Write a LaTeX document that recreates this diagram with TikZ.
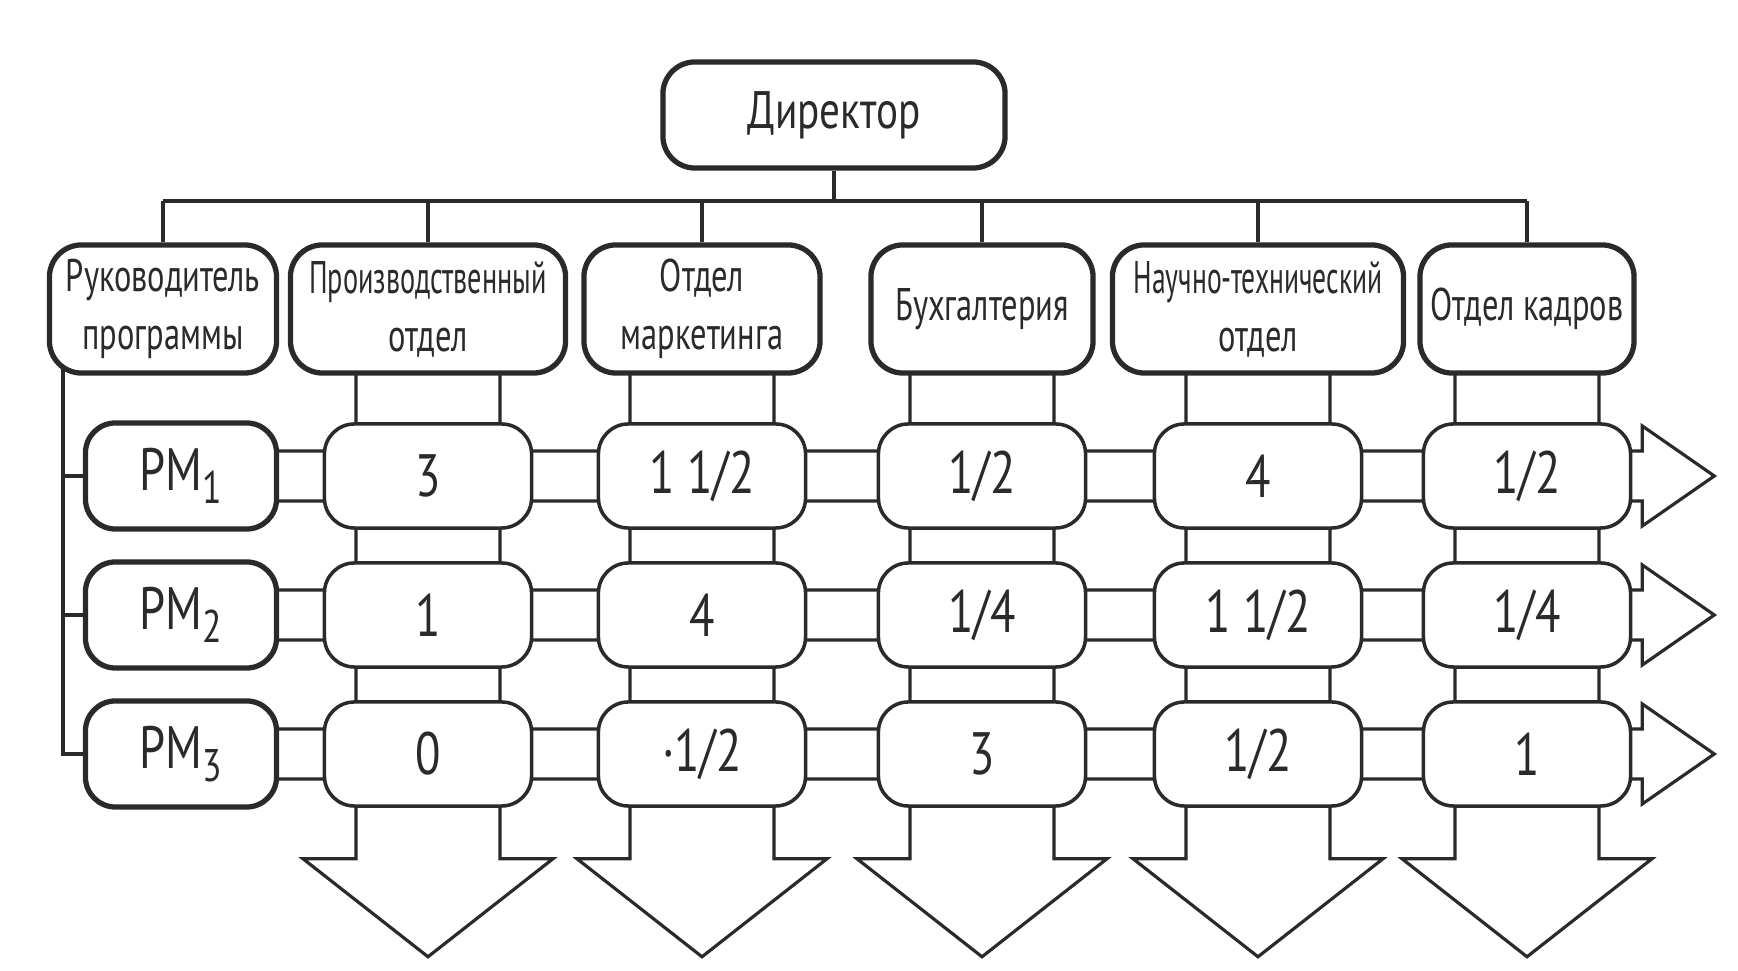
\documentclass[tikz,border=0pt]{standalone}
\usepackage{fontspec}
\setmainfont[FakeStretch=0.78]{PT Sans}
\newfontfamily\deptf[FakeStretch=0.71]{PT Sans}
\usetikzlibrary{calc,backgrounds}
\definecolor{ink}{HTML}{2A2A2A}
\tikzset{
  topbox/.style={draw=ink, line width=1.5pt, rounded corners=0.32cm, fill=white, align=center,
    font=\deptf\fontsize{13}{16.5}\selectfont, inner sep=0pt, minimum height=1.28cm, text=ink},
  dirbox/.style={topbox, minimum width=3.42cm, minimum height=1.06cm, font=\rmfamily\fontsize{15}{18}\selectfont},
  pmbox/.style={draw=ink, line width=1.5pt, rounded corners=0.3cm, fill=white, minimum width=1.91cm,
    minimum height=1.06cm, font=\fontsize{17}{20}\selectfont, inner sep=0pt, text=ink},
  cell/.style={draw=ink, line width=1pt, rounded corners=0.3cm, fill=white, minimum width=2.07cm,
    minimum height=1.04cm, font=\fontsize{17}{20}\selectfont, inner sep=0pt, text=ink},
  link/.style={draw=ink, line width=0.9pt},
  band/.style={draw=ink, line width=0.9pt, line join=miter},
}
\newcommand{\pmsub}[1]{\raisebox{-0.45ex}{\fontsize{13}{14}\selectfont #1}}
\newcommand{\squeeze}[2]{\scalebox{#1}[1]{#2}}
\begin{document}
\begin{tikzpicture}[x=0.01cm,y=-0.01cm]
\useasboundingbox (0,0) rectangle (1738,971);

% director and departments
\node[dirbox] (dir) at (834,115) {Директор};
\node[topbox, minimum width=2.27cm] (d0) at (163,309) {Руководитель\\программы};
\node[topbox, minimum width=2.75cm] (d1) at (428,309) {\squeeze{0.87}{Производственный}\\отдел};
\node[topbox, minimum width=2.36cm] (d2) at (702,309) {Отдел\\маркетинга};
\node[topbox, minimum width=2.22cm] (d3) at (982,309) {Бухгалтерия};
\node[topbox, minimum width=2.91cm] (d4) at (1258,309) {\squeeze{0.85}{Научно-технический}\\отдел};
\node[topbox, minimum width=2.14cm] (d5) at (1527,309) {Отдел кадров};

% programme managers
\node[pmbox] (pm1) at (181,476) {PM\pmsub{1}};
\node[pmbox] (pm2) at (181,615) {PM\pmsub{2}};
\node[pmbox] (pm3) at (181,754) {PM\pmsub{3}};

% matrix cells
\node[cell] (c11) at (428,476) {3};
\node[cell] (c21) at (702,476) {1 1/2};
\node[cell] (c31) at (982,476) {1/2};
\node[cell] (c41) at (1258,476) {4};
\node[cell] (c51) at (1527,476) {1/2};
\node[cell] (c12) at (428,615) {1};
\node[cell] (c22) at (702,615) {4};
\node[cell] (c32) at (982,615) {1/4};
\node[cell] (c42) at (1258,615) {1 1/2};
\node[cell] (c52) at (1527,615) {1/4};
\node[cell] (c13) at (428,754) {0};
\node[cell] (c23) at (702,754) {·1/2};
\node[cell] (c33) at (982,754) {3};
\node[cell] (c43) at (1258,754) {1/2};
\node[cell] (c53) at (1527,754) {1};

\coordinate (busy) at (0,201);
\coordinate (lx) at (63,0);

\begin{scope}[on background layer]
  \fill[white] (0,0) rectangle (1738,971);
  % hierarchy
  \draw[link] (dir.south) -- (dir.south |- busy);
  \draw[link] (d0.north |- busy) -- (d5.north |- busy);
  \foreach \n in {d0,d1,d2,d3,d4,d5}
    \draw[link] (\n.north) -- (\n.north |- busy);
  \draw[link] (d0.center -| lx) -- (pm3.west -| lx) -- (pm3.west);
  \draw[link] (pm1.west -| lx) -- (pm1.west);
  \draw[link] (pm2.west -| lx) -- (pm2.west);
  % row arrows
  \foreach \r in {1,2,3}{
    \draw[band] ($(pm\r.center)+(0,-25)$) -- ($(c5\r.east)+(10,-25)$) -- ($(c5\r.east)+(10,-50)$)
      -- ($(c5\r.east)+(82,0)$) -- ($(c5\r.east)+(10,50)$) -- ($(c5\r.east)+(10,25)$)
      -- ($(pm\r.center)+(0,25)$);
  }
  % column arrows
  \foreach \k in {1,2,3,4,5}{
    \draw[band] ($(d\k.center)+(-72,0)$) -- ($(c\k3.south)+(-72,51)$) -- ($(c\k3.south)+(-125,51)$)
      -- ($(c\k3.south)+(0,149)$) -- ($(c\k3.south)+(125,51)$) -- ($(c\k3.south)+(72,51)$)
      -- ($(d\k.center)+(72,0)$);
  }
\end{scope}
\end{tikzpicture}
\end{document}
